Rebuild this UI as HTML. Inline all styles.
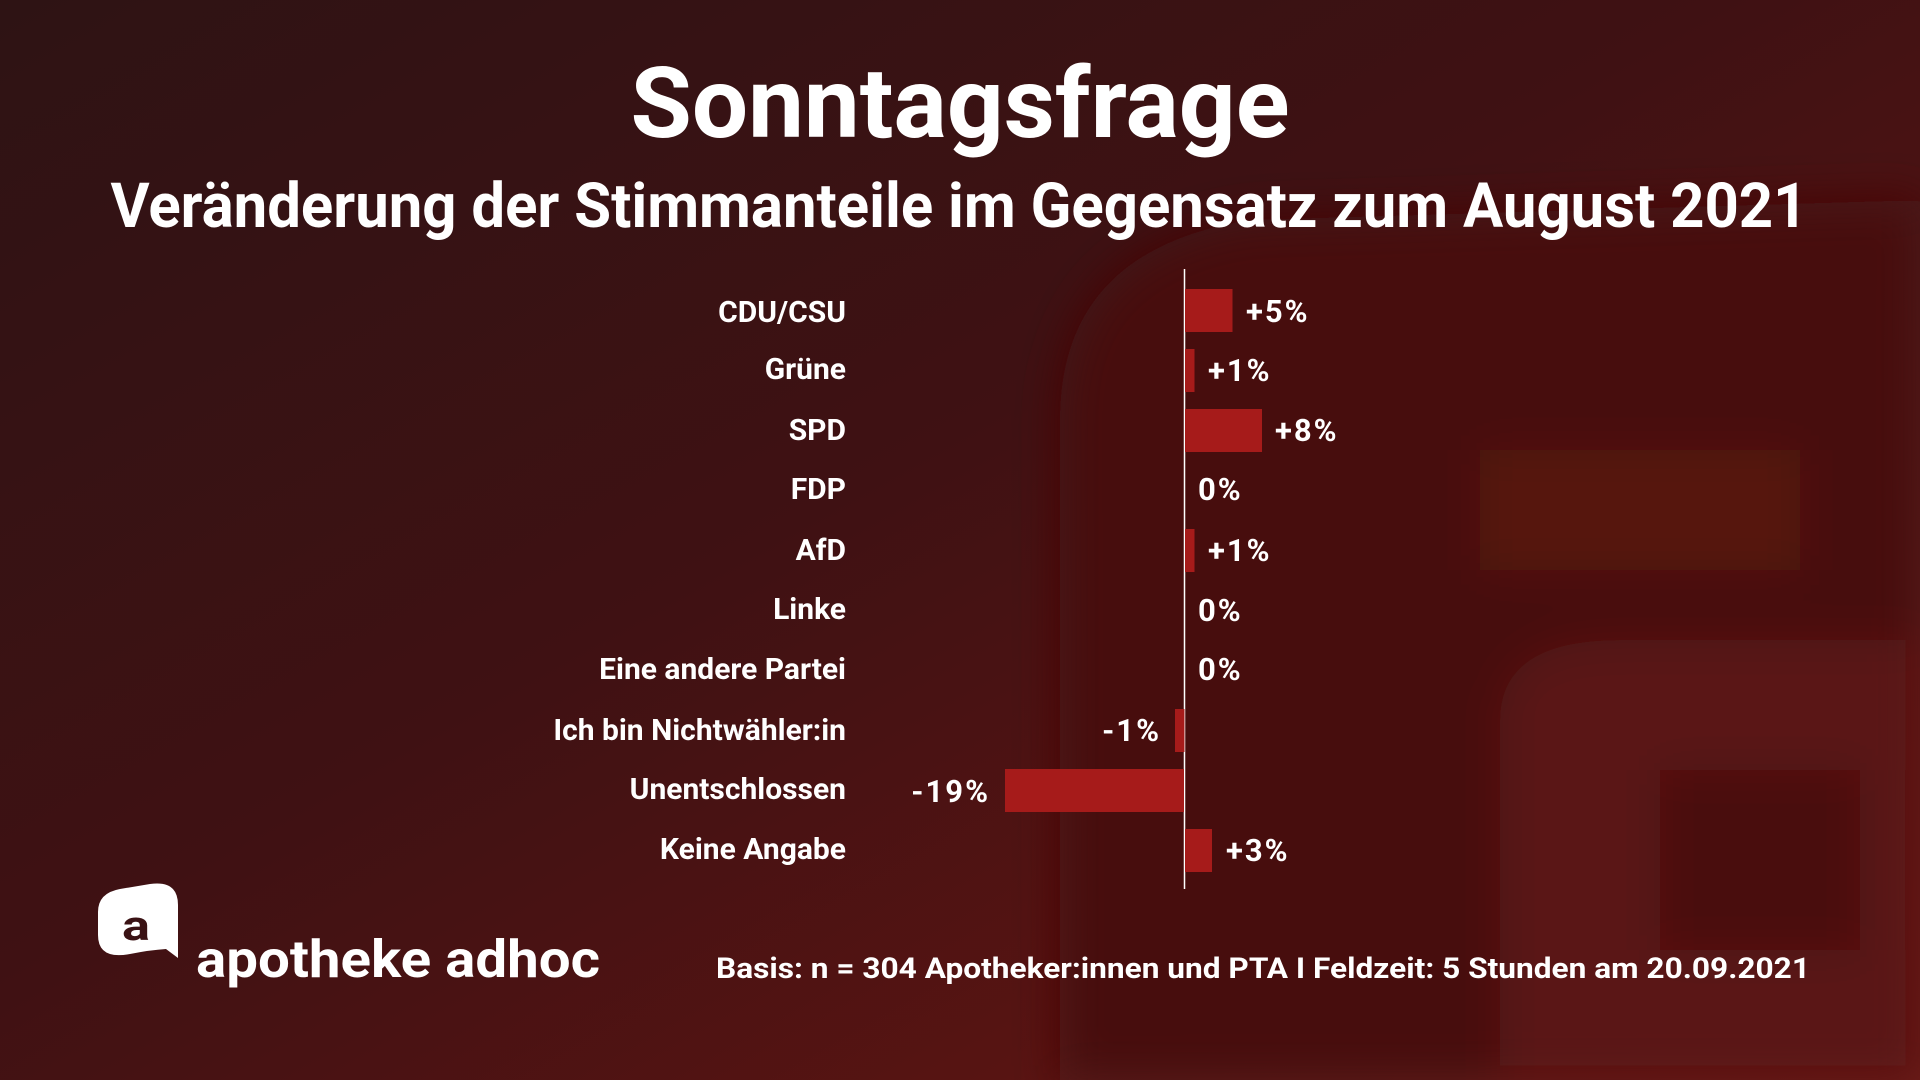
<!DOCTYPE html>
<html><head><meta charset="utf-8"><style>
html,body{margin:0;padding:0;width:1920px;height:1080px;overflow:hidden;background:#3a1214}
svg{display:block}
text{font-family:"Roboto","Liberation Sans",sans-serif;font-weight:bold;fill:#fff}
</style></head><body>
<svg width="1920" height="1080" viewBox="0 0 1920 1080" xmlns="http://www.w3.org/2000/svg">
<defs>
<linearGradient id="bg" x1="0" y1="0" x2="1" y2="1">
<stop offset="0" stop-color="#2e1314"/>
<stop offset="0.45" stop-color="#3f1113"/>
<stop offset="1" stop-color="#6a1612"/>
</linearGradient>
<filter id="bl" x="-20%" y="-20%" width="140%" height="140%"><feGaussianBlur stdDeviation="22"/></filter>
</defs>
<rect width="1920" height="1080" fill="url(#bg)"/>
<g filter="url(#bl)">
<path d="M1060 1080 L1060 420 Q1060 250 1250 220 L1920 200 L1920 1080 Z" fill="#470a0b"/>
<rect x="1480" y="450" width="320" height="120" fill="#561311"/>
<path d="M1500 720 Q1500 640 1620 640 L1920 640 L1920 1080 L1500 1080 Z" fill="#5a1412"/>
<rect x="1660" y="770" width="200" height="180" fill="#4a0b0c"/>
</g>
<text x="960" y="137" font-size="98" text-anchor="middle" textLength="659" lengthAdjust="spacingAndGlyphs">Sonntagsfrage</text>
<text x="959" y="227" font-size="62" text-anchor="middle" textLength="1697" lengthAdjust="spacingAndGlyphs">Veränderung der Stimmanteile im Gegensatz zum August 2021</text>
<line x1="1184.5" y1="269" x2="1184.5" y2="889" stroke="#fff" stroke-width="1.5"/>
<g fill="#a61b1a">
<rect x="1185" y="289" width="47.5" height="43"/>
<rect x="1185" y="349" width="9.5" height="43"/>
<rect x="1185" y="409" width="77" height="43"/>
<rect x="1185" y="529" width="9.5" height="43"/>
<rect x="1175" y="709" width="9.5" height="43"/>
<rect x="1005" y="769" width="179" height="43"/>
<rect x="1185" y="829" width="27" height="43"/>
</g>
<g font-size="30" text-anchor="end">
<text x="846" y="322">CDU/CSU</text>
<text x="846" y="379">Grüne</text>
<text x="846" y="440">SPD</text>
<text x="846" y="499">FDP</text>
<text x="846" y="560">AfD</text>
<text x="846" y="619">Linke</text>
<text x="846" y="679">Eine andere Partei</text>
<text x="846" y="740">Ich bin Nichtwähler:in</text>
<text x="846" y="799">Unentschlossen</text>
<text x="846" y="859">Keine Angabe</text>
</g>
<g font-size="31" letter-spacing="2">
<text x="1246" y="322">+5%</text>
<text x="1208" y="381">+1%</text>
<text x="1275" y="441">+8%</text>
<text x="1198" y="500">0%</text>
<text x="1208" y="561">+1%</text>
<text x="1198" y="621">0%</text>
<text x="1198" y="680">0%</text>
<text x="1161" y="741" text-anchor="end">-1%</text>
<text x="990" y="802" text-anchor="end">-19%</text>
<text x="1226" y="861">+3%</text>
</g>
<text x="716" y="978" font-size="29" textLength="1094" lengthAdjust="spacingAndGlyphs">Basis: n = 304 Apotheker:innen und PTA I Feldzeit: 5 Stunden am 20.09.2021</text>
<path d="M98 912 Q98 893 120 889 L150 884 Q178 880 178 905 L178 958 L166 949 Q150 950 130 954 Q98 960 98 935 Z" fill="#fff"/>
<text x="122" y="940" font-size="42" style="fill:#3a1214" textLength="28" lengthAdjust="spacingAndGlyphs">a</text>
<text x="196" y="977" font-size="52" textLength="404" lengthAdjust="spacingAndGlyphs">apotheke adhoc</text>
</svg>
</body></html>
